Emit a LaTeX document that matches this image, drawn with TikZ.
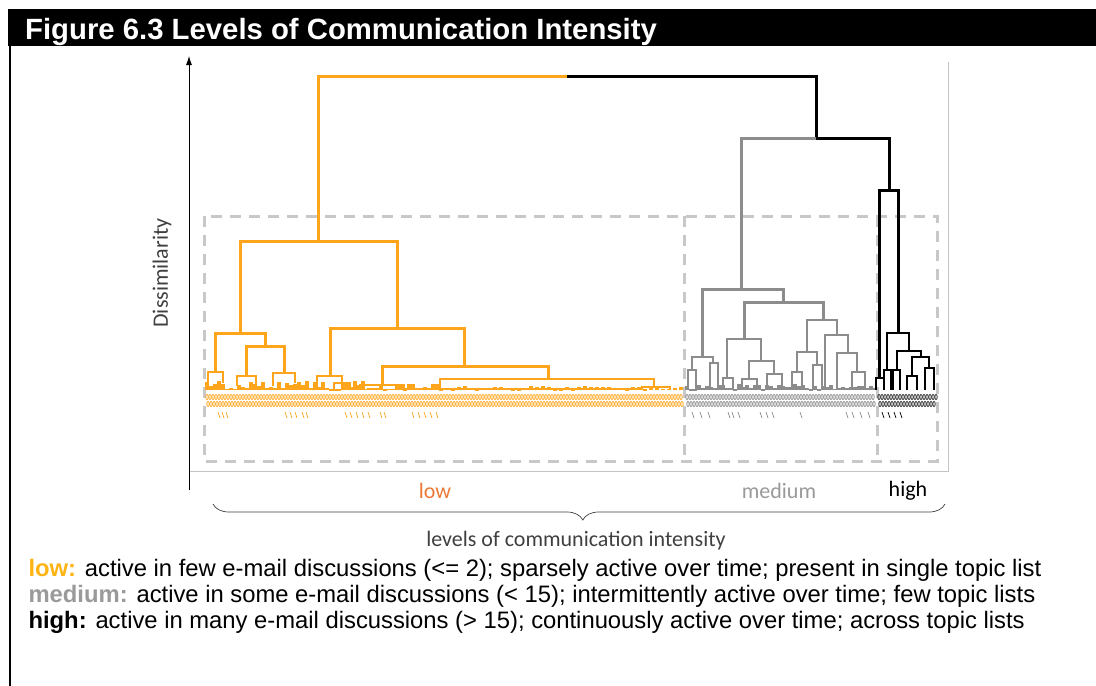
\documentclass[tikz,border=0pt]{standalone}
\usepackage{fontspec}
\setmainfont{Liberation Sans}
\newfontfamily\calib{Carlito}
\usetikzlibrary{decorations.pathreplacing,arrows.meta}
\definecolor{dorange}{HTML}{FFA51C}
\definecolor{dgray}{HTML}{8C8C8C}
\definecolor{boxgray}{HTML}{C8C8C8}
\definecolor{framegray}{HTML}{C4C4C4}
\definecolor{lowlabel}{HTML}{EB7A36}
\definecolor{lowkey}{HTML}{FFB414}
\definecolor{medkey}{HTML}{9A9A9A}
\definecolor{axistext}{HTML}{404040}
% link of a dendrogram: left leg (x1,y1), right leg (x2,y2), joined at height yt
\newcommand\lk[6][]{\draw[#1] (#2,#3) |- (#4,#6) -- (#4,#5);}
% row of tiny merges near the leaves
\newcommand\leafrow[6]{\foreach \lx in {#2,#3,...,#4}{\pgfmathsetmacro\lh{#5-#6*rnd}\draw[#1] (\lx,#5) |- (\lx+2,\lh) -- (\lx+2,#5);}}
% row of leaf marks
\newcommand\labelrow[5]{\foreach \lx in {#2,#3,...,#4}{\draw[#1, line width=0.8pt] (\lx,#5) ellipse (1.2 and 2.6);}}
\tikzset{
  org/.style={dorange, line width=3pt},
  orgs/.style={dorange, line width=2.2pt},
  orgt/.style={dorange, line width=1.3pt},
  gry/.style={dgray, line width=3pt},
  grys/.style={dgray, line width=2.2pt},
  gryt/.style={dgray, line width=1.3pt},
  blk/.style={black, line width=3pt},
  blks/.style={black, line width=2.2pt},
  blkt/.style={black, line width=1.3pt},
  clusterbox/.style={boxgray, line width=3pt, dash pattern=on 11pt off 8pt},
  charttext/.style={font=\calib\fontsize{22}{22}\selectfont},
  keytext/.style={anchor=base west, font=\fontsize{23.8}{26}\selectfont},
}
\begin{document}
\begin{tikzpicture}[x=1pt,y=-1pt]
\useasboundingbox (0,0) rectangle (1096,686);
\fill[white] (0,0) rectangle (1096,686);

% title bar and left rule
\fill[black] (8,9) rectangle (1096,46);
\node[anchor=base west, text=white, inner sep=0pt, font=\bfseries\fontsize{29.3}{30}\selectfont] (title) at (25,39) {Figure 6.3 Levels of Communication Intensity};
\draw[line width=2pt] (10,46) -- (10,686);

% plot frame and axis
\coordinate (ax0) at (189,490);
\coordinate (ax1) at (189,56);
\draw[framegray, line width=1pt] (189,471) -- (948,471) -- (948,62);
\draw[line width=0.8pt, -{Latex[length=9pt,width=6pt]}] (ax0) -- (ax1);
\node[charttext, text=axistext, rotate=90] (ylab) at (162,273) {Dissimilarity};

% cluster boxes
\draw[clusterbox] (204,216) rectangle (937,461);
\draw[clusterbox] (684,216) -- (684,461);
\draw[clusterbox] (877,216) -- (877,461);

% upper merges
\draw[org] (318,241) -- (318,76) -- (567,76);
\draw[blk] (567,76) -- (816,76) -- (816,138);
\draw[gry] (741,289) -- (741,138) -- (816,138);
\draw[blk] (816,138) -- (889,138) -- (889,190);

% low cluster
\lk[org]{240}{333}{397}{328}{241}
\lk[org]{215}{372}{265}{346}{333}
\lk[org]{246}{376}{284}{373}{346}
\lk[org]{330}{376}{464}{366}{328}
\lk[org]{382}{385}{548}{379}{366}
\lk[orgs]{440}{389}{654}{388}{379}
\lk[orgs]{317}{389}{342}{383}{376}
\lk[orgs]{208}{386}{223}{383}{372}
\lk[orgs]{237}{386}{256}{384}{376}
\lk[orgs]{273}{386}{295}{383}{373}
\lk[orgs]{360}{389}{404}{389}{385}
\lk[orgs]{334}{389}{350}{389}{383}
\lk[orgs]{642}{390}{670}{390}{387}
\pgfmathsetseed{17}
\leafrow{orgt}{206}{210}{362}{390}{9}
\leafrow{orgt}{364}{368}{436}{390}{6}
\draw[dorange, line width=2.4pt] (404,389) -- (640,389);
\leafrow{orgt}{440}{446}{680}{390}{3}
\labelrow{dorange}{207}{210}{682}{397}
\labelrow{dorange}{208}{211}{682}{404}
\foreach \sx in {218,222,226,285,290,295,302,306,345,350,356,362,368,380,384,412,418,424,430,436}{\draw[dorange, line width=0.7pt] (\sx,412) -- (\sx+2,418);}

% medium cluster
\lk[gry]{702}{357}{783}{302}{289}
\lk[gry]{744}{339}{823}{320}{302}
\lk[grys]{692}{370}{713}{363}{357}
\lk[grys]{688}{390}{696}{390}{370}
\lk[grys]{710}{390}{718}{390}{363}
\lk[grys]{727}{378}{761}{361}{339}
\lk[grys]{723}{390}{733}{390}{378}
\lk[grys]{749}{379}{774}{374}{361}
\lk[grys]{742}{390}{757}{390}{379}
\lk[grys]{767}{390}{782}{390}{374}
\lk[grys]{807}{352}{837}{335}{320}
\lk[grys]{797}{372}{817}{365}{352}
\lk[grys]{792}{390}{802}{390}{372}
\lk[grys]{813}{390}{822}{390}{365}
\lk[grys]{825}{390}{848}{353}{335}
\lk[grys]{837}{390}{857}{372}{353}
\lk[grys]{852}{390}{865}{390}{372}
\leafrow{gryt}{686}{690}{874}{390}{5}
\labelrow{dgray}{687}{690}{875}{397}
\labelrow{dgray}{688}{691}{875}{404}
\foreach \sx in {692,700,708,728,732,738,760,766,772,800,846,852,860,868}{\draw[dgray, line width=0.7pt] (\sx,412) -- (\sx+2,418);}

% high cluster
\lk[blk]{879}{378}{898}{333}{190}
\lk[blks]{887}{370}{909}{351}{333}
\lk[blks]{897}{370}{921}{357}{351}
\lk[blks]{912}{376}{929}{368}{357}
\lk[blks]{876}{390}{884}{390}{378}
\lk[blks]{884}{390}{891}{390}{370}
\lk[blks]{893}{390}{900}{390}{370}
\lk[blks]{907}{390}{917}{390}{376}
\lk[blks]{925}{390}{934}{390}{368}
\labelrow{black!85}{879}{882}{936}{397}
\labelrow{black!85}{880}{883}{936}{404}
\foreach \sx in {882,888,894,900}{\draw[black, line width=0.7pt] (\sx,412) -- (\sx+2,418);}

% group labels and brace
\node[charttext, text=lowlabel] (lowname) at (435,491) {low};
\node[charttext, text=medkey] (medname) at (779,491) {medium};
\node[charttext, text=black] (highname) at (908,491) {high};
\coordinate (brl) at (213,504);
\coordinate (brr) at (945,504);
\draw[axistext, line width=0.7pt, decorate, decoration={brace, mirror, amplitude=16pt, aspect=0.5052}] (brl) -- (brr);
\node[charttext, text=axistext] (levels) at (576,541) {levels of communication intensity};

% key
\node[keytext] (keylow) at (25,576) {\textcolor{lowkey}{\bfseries low:} active in few e-mail discussions (<= 2); sparsely active over time; present in single topic list};
\node[keytext] (keymed) at (25,602) {\textcolor{medkey}{\bfseries medium:} active in some e-mail discussions (< 15); intermittently active over time; few topic lists};
\node[keytext] (keyhigh) at (25,628) {\textbf{high:} active in many e-mail discussions (> 15); continuously active over time; across topic lists};
\end{tikzpicture}
\end{document}
